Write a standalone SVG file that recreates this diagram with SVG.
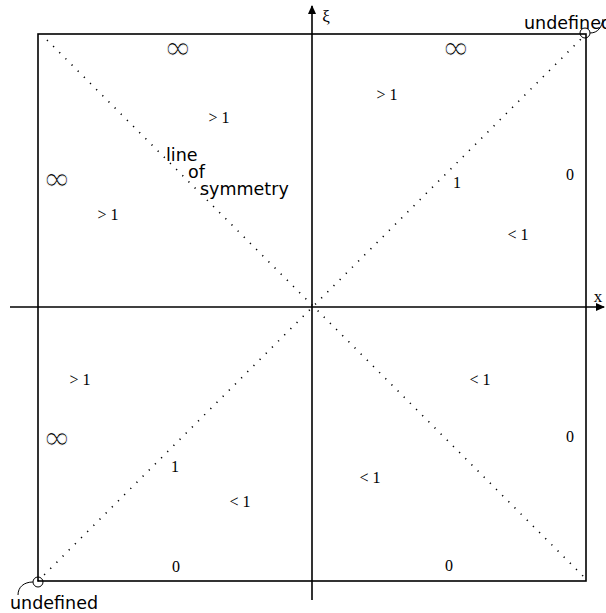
<svg xmlns="http://www.w3.org/2000/svg" width="606" height="613" viewBox="0 0 606 613">
<style>
.ln{stroke:#000;stroke-width:1.6;fill:none}
.dot{stroke:#000;stroke-width:1.6;fill:none;stroke-dasharray:1.2 7.5}
.m{font-family:"Liberation Serif",serif;font-size:16px;text-anchor:middle;fill:#000}
.inf{font-family:"DejaVu Sans",sans-serif;font-size:34px;text-anchor:middle;fill:#000;stroke:#fff;stroke-width:0.9}
.s{font-family:"DejaVu Sans",sans-serif;font-size:17.5px;fill:#000}
.thin{stroke:#000;stroke-width:1;fill:none}
</style>
<defs>
<marker id="ah" markerWidth="10" markerHeight="10" refX="8" refY="5" orient="auto" markerUnits="userSpaceOnUse">
<path d="M0,1 L9,5 L0,9 Z" fill="#000"/>
</marker>
</defs>
<rect width="606" height="613" fill="#fff"/>
<g id="connectors">
<rect x="38" y="34" width="548" height="547" class="ln"/>
<line x1="10" y1="307" x2="604" y2="307" class="ln" marker-end="url(#ah)"/>
<line x1="312" y1="600" x2="312" y2="6" class="ln" marker-end="url(#ah)"/>
<line x1="38" y1="581" x2="586" y2="34" class="dot"/>
<line x1="47" y1="40" x2="586" y2="579" class="dot"/>
<circle cx="585" cy="33" r="5" class="thin"/>
<circle cx="38" cy="582" r="5" class="thin"/>
<path d="M590,33 C598,33 602,27 603,19" class="thin"/>
<path d="M33,582 C24,582 18,587 18,595" class="thin"/>
</g>
<g id="labels">
<text class="inf" x="178" y="59">∞</text>
<text class="inf" x="456" y="59">∞</text>
<text class="inf" x="57" y="190">∞</text>
<text class="inf" x="57" y="449">∞</text>
<text class="m" x="219" y="123">&gt; 1</text>
<text class="m" x="387" y="100">&gt; 1</text>
<text class="m" x="108" y="220">&gt; 1</text>
<text class="m" x="80" y="385">&gt; 1</text>
<text class="m" x="457" y="188">1</text>
<text class="m" x="175" y="472">1</text>
<text class="m" x="570" y="180">0</text>
<text class="m" x="570" y="442">0</text>
<text class="m" x="176" y="572">0</text>
<text class="m" x="449" y="571">0</text>
<text class="m" x="518" y="240">&lt; 1</text>
<text class="m" x="480" y="385">&lt; 1</text>
<text class="m" x="370" y="483">&lt; 1</text>
<text class="m" x="240" y="507">&lt; 1</text>
<text class="s" x="166" y="161">line</text>
<text class="s" x="188" y="178">of</text>
<text class="s" x="200" y="195">symmetry</text>
<text class="s" x="524" y="29">undefined</text>
<text class="s" x="10" y="609">undefined</text>
<text class="m" x="326" y="22" style="font-size:17px">ξ</text>
<text class="m" x="598" y="302" style="font-size:17px">x</text>
</g>
</svg>
